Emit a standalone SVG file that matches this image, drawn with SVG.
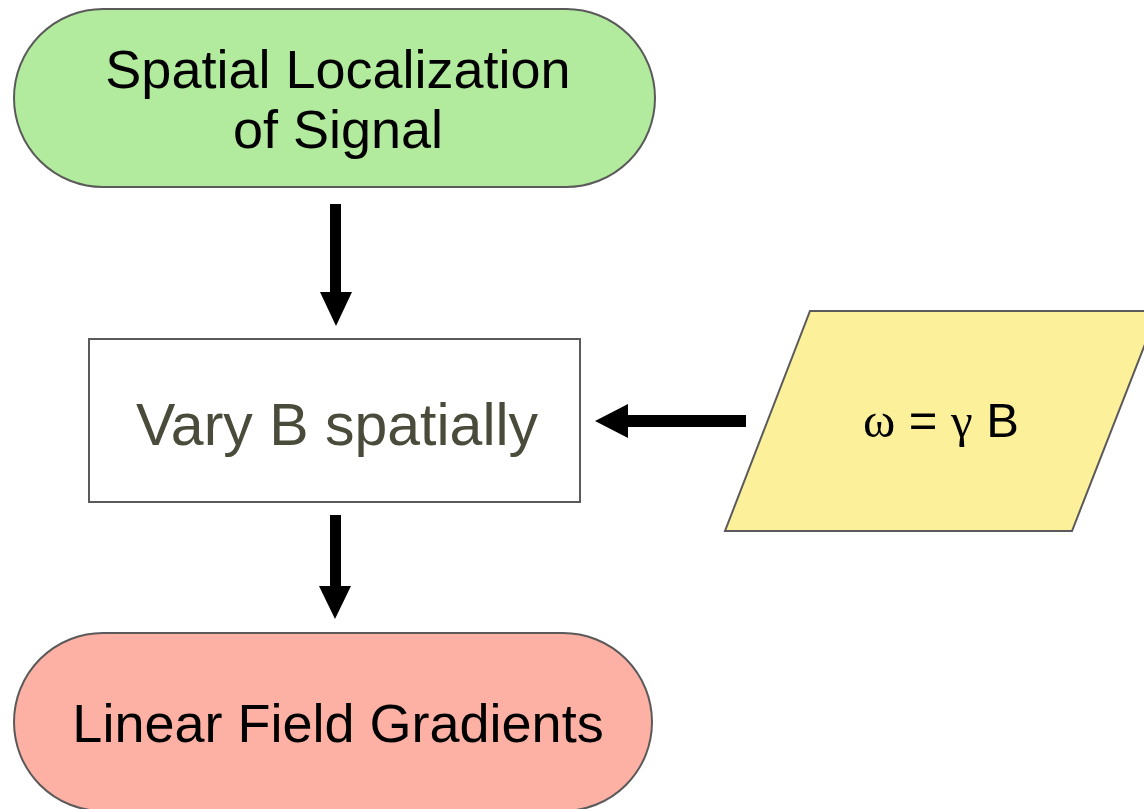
<svg xmlns="http://www.w3.org/2000/svg" width="1144" height="809" viewBox="0 0 1144 809">
<style>
.shape{stroke:#5a5a5a;stroke-width:2}
.lbl{font-family:"Liberation Sans",Arial,sans-serif;text-anchor:middle;fill:#000}
.greek{font-family:"Liberation Serif","Times New Roman",serif}
.arrow{fill:#000}
</style>
<rect width="1144" height="809" fill="#fff"/>
<g id="node-spatial">
<rect class="shape" x="14" y="9" width="641" height="178" rx="89" ry="89" fill="#b2eb9d"/>
<text class="lbl" x="338" y="88" font-size="54">Spatial Localization</text>
<text class="lbl" x="338" y="148" font-size="54">of Signal</text>
</g>
<g id="node-vary">
<rect class="shape" x="89" y="339" width="491" height="163" fill="#fff"/>
<text class="lbl" x="337" y="445" font-size="59" style="fill:#4b4b3c">Vary B spatially</text>
</g>
<g id="node-omega">
<polygon class="shape" points="810,311 1158,311 1072,531 725,531" fill="#fdf09b"/>
<text class="lbl" x="941" y="437" font-size="49"><tspan class="greek">ω</tspan> = <tspan class="greek">γ</tspan> B</text>
</g>
<g id="node-linear">
<rect class="shape" x="14" y="633" width="638" height="178" rx="89" ry="89" fill="#fdb1a4"/>
<text class="lbl" x="338" y="742" font-size="54">Linear Field Gradients</text>
</g>
<g id="connectors">
<polygon class="arrow" points="330,204 341,204 341,292 352,292 336,326 320,292 330,292"/>
<polygon class="arrow" points="330,515 341,515 341,586 351,586 335,619 319,586 330,586"/>
<polygon class="arrow" points="746,415 746,427 628,427 628,438 595,421 628,404 628,415"/>
</g>
</svg>
